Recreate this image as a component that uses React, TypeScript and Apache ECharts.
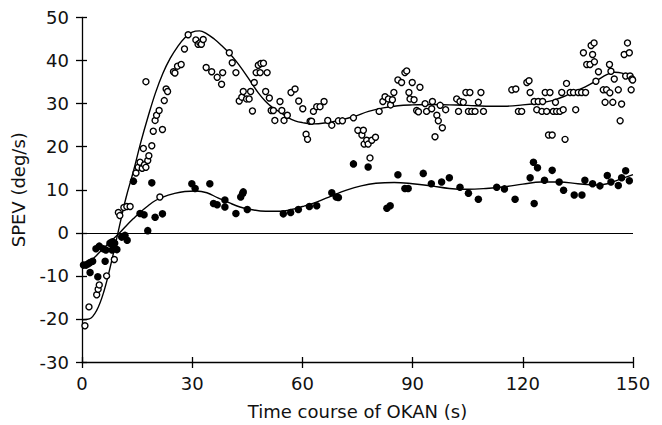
import React, { useEffect, useRef } from "react";
import * as echarts from "echarts";

const xTicks = [0, 30, 60, 90, 120, 150];
const yTicks = [-30, -20, -10, 0, 10, 20, 30, 40, 50];

const openPoints: [number, number][] = [
  [0.8, -21.6], [1.9, -17.2], [4.0, -14.4], [4.4, -13.1], [4.7, -12.1], [6.7, -10.0], [8.8, -6.2],
  [9.9, 4.7], [10.3, 4.0], [11.4, 5.9], [12.2, 6.1], [13.1, 6.1], [14.7, 13.9], [15.3, 15.2],
  [15.8, 16.4], [16.4, 15.0], [17.0, 15.8], [17.4, 15.2], [16.7, 19.6], [17.4, 35.1], [17.9, 16.8],
  [18.2, 17.9], [19.0, 20.2], [19.4, 23.6], [19.9, 26.1], [20.3, 27.3], [21.0, 28.4], [21.2, 8.3],
  [21.9, 24.0], [22.4, 30.7], [22.9, 33.4], [23.3, 32.8], [24.9, 37.4], [25.3, 37.1], [26.0, 38.7],
  [27.0, 39.1], [27.9, 42.7], [28.9, 46.0], [31.0, 44.8], [31.6, 43.8], [32.1, 44.1], [32.5, 43.8],
  [33.0, 44.9], [33.8, 38.4], [35.3, 37.4], [36.8, 36.1], [38.0, 34.5], [38.3, 37.2], [40.1, 41.8],
  [40.9, 39.5], [41.9, 37.2], [42.8, 30.6], [43.5, 31.5], [43.9, 32.8], [44.8, 31.1], [45.5, 31.1],
  [45.9, 32.8], [46.4, 28.3], [46.9, 34.9], [47.4, 37.2], [48.0, 38.9], [48.5, 37.2], [48.7, 39.3],
  [49.4, 39.4], [50.4, 37.2], [50.0, 32.8], [51.0, 31.3], [51.5, 28.4], [52.1, 28.4], [52.5, 26.1],
  [53.9, 30.5], [54.4, 28.4], [55.0, 26.1], [55.9, 27.3], [56.9, 32.6], [58.0, 33.4], [59.0, 30.6],
  [60.1, 28.8], [61.0, 22.9], [61.4, 21.7], [62.1, 25.9], [62.5, 25.9], [63.0, 28.2], [63.9, 29.3],
  [64.8, 29.3], [65.9, 30.5], [66.9, 26.1], [68.0, 25.0], [69.8, 26.0], [70.9, 26.0], [73.9, 26.7],
  [75.1, 23.8], [76.2, 22.7], [76.6, 23.8], [76.8, 20.6], [77.5, 21.5], [77.9, 20.6], [78.9, 21.5],
  [79.9, 22.2], [78.4, 17.4], [80.9, 28.2], [81.9, 30.5], [82.5, 31.6], [83.4, 31.1], [84.0, 29.7],
  [84.5, 30.9], [84.9, 32.6], [86.0, 35.5], [87.0, 34.9], [87.9, 37.2], [88.4, 37.6], [89.0, 32.6],
  [89.9, 34.9], [92.0, 33.8], [89.3, 31.1], [90.4, 30.9], [91.1, 28.4], [91.6, 28.1], [93.4, 30.0],
  [93.8, 28.2], [95.4, 30.5], [95.2, 28.8], [96.6, 27.3], [97.0, 26.0], [98.1, 24.4], [96.1, 22.3],
  [97.5, 29.6], [99.0, 28.6], [102.0, 31.1], [102.9, 30.5], [103.8, 30.3], [102.5, 28.2], [104.5, 32.6],
  [105.6, 32.6], [105.2, 28.2], [106.1, 28.2], [107.0, 28.2], [107.9, 30.3], [108.6, 32.6], [109.3, 28.2],
  [117.0, 33.2], [118.1, 33.4], [118.8, 28.2], [119.7, 28.2], [121.1, 34.9], [121.7, 35.3], [122.0, 32.6],
  [123.1, 30.5], [124.2, 30.5], [125.4, 30.5], [123.8, 28.6], [125.2, 28.2], [126.5, 28.2], [126.1, 32.6],
  [127.4, 32.6], [127.0, 22.7], [128.0, 22.7], [128.3, 28.2], [129.2, 28.2], [130.1, 28.2], [131.0, 28.6],
  [128.9, 30.3], [130.6, 32.6], [131.5, 21.7], [131.9, 34.7], [132.9, 32.6], [133.8, 32.6], [135.1, 32.6],
  [136.0, 32.6], [137.1, 32.6], [134.4, 28.6], [136.5, 41.8], [137.4, 39.1], [138.3, 39.1], [138.6, 43.5],
  [139.4, 44.1], [139.0, 41.4], [139.5, 39.7], [140.6, 37.4], [139.9, 35.2], [141.9, 33.2], [142.8, 33.2],
  [143.7, 32.5], [142.4, 30.3], [144.5, 30.3], [143.6, 39.1], [144.0, 37.5], [144.9, 35.7], [146.0, 33.2],
  [146.9, 29.9], [146.5, 26.0], [147.6, 41.4], [148.5, 44.1], [149.0, 41.8], [148.0, 36.4], [149.2, 36.4],
  [149.7, 35.7], [149.9, 35.5], [149.5, 33.2],
];

const filledPoints: [number, number][] = [
  [0.4, -7.5], [1.1, -7.5], [1.7, -7.2], [2.2, -6.9], [2.9, -6.6], [2.2, -9.2], [3.8, -3.7], [4.7, -3.1],
  [5.8, -3.7], [6.5, -4.0], [4.3, -10.2], [6.3, -6.6], [7.6, -2.4], [8.3, -2.1], [8.9, -2.4], [8.7, -3.6],
  [8.2, -4.0], [9.5, -3.9], [10.8, -1.0], [11.7, -0.6], [12.3, -1.7], [14.0, 12.0], [15.8, 4.5], [16.9, 4.2],
  [17.9, 0.5], [19.0, 11.6], [19.9, 3.6], [21.9, 4.4], [29.9, 11.4], [30.8, 10.3], [34.8, 11.4], [35.8, 6.8],
  [36.8, 6.5], [38.9, 7.6], [38.9, 6.0], [41.9, 4.5], [43.2, 8.3], [43.7, 9.1], [43.9, 9.5], [45.0, 5.4],
  [54.8, 4.4], [56.8, 4.7], [58.9, 5.4], [61.9, 6.1], [63.9, 6.3], [68.0, 9.3], [69.2, 8.3], [69.8, 8.2],
  [73.9, 16.0], [77.9, 15.3], [83.0, 5.7], [83.9, 6.3], [86.0, 13.5], [87.9, 10.3], [88.8, 10.3],
  [92.9, 13.8], [95.1, 11.4], [97.9, 11.8], [100.0, 12.8], [102.9, 10.6], [105.2, 9.2], [107.9, 7.8],
  [112.9, 10.6], [115.0, 10.2], [117.9, 7.8], [122.0, 12.8], [122.9, 16.4], [124.0, 15.1], [123.1, 6.8],
  [125.9, 12.2], [128.0, 14.5], [129.9, 11.8], [131.1, 9.9], [134.0, 8.8], [136.1, 8.8], [136.9, 12.2],
  [139.0, 11.4], [141.0, 10.9], [143.0, 13.3], [144.0, 11.8], [146.0, 11.0], [146.9, 12.8], [148.0, 14.4],
  [149.0, 12.1],
];

const openFitX = [0, 2, 4, 6, 8, 10, 12, 14, 16, 18, 20, 22, 24, 26, 28, 30, 32, 34, 36, 38, 40, 42, 44, 46, 48, 50, 52, 54, 56, 58, 60, 63, 66, 70, 74, 78, 82, 86, 90, 95, 100, 105, 110, 115, 120, 125, 128, 131, 134, 137, 140, 143, 145, 147, 149, 150];
const openFitY = [-20.2, -20.0, -18.0, -13.5, -6.8, 0.8, 8.2, 14.3, 21.0, 27.0, 32.5, 37.0, 40.5, 43.2, 45.3, 46.6, 46.9, 46.2, 45.0, 43.5, 41.8, 39.8, 37.5, 35.0, 32.5, 30.5, 29.0, 28.0, 26.8, 26.0, 25.6, 25.3, 25.5, 26.1, 27.0, 28.2, 29.0, 29.5, 29.7, 29.8, 29.7, 29.6, 29.4, 29.4, 29.7, 30.2, 30.7, 31.6, 32.8, 33.9, 35.3, 36.8, 37.3, 37.1, 36.3, 35.7];

const filledFitX = [0, 2, 4, 6, 8, 10, 12, 14, 16, 18, 20, 22, 25, 28, 31, 34, 37, 40, 43, 46, 50, 54, 57, 60, 64, 68, 72, 76, 80, 85, 90, 95, 100, 105, 110, 115, 120, 125, 130, 135, 140, 143, 146, 150];
const filledFitY = [-8.0, -6.8, -5.2, -3.5, -1.8, -0.2, 1.6, 3.3, 4.9, 6.3, 7.5, 8.3, 9.1, 9.6, 9.7, 9.3, 8.1, 7.0, 6.0, 5.4, 5.0, 5.0, 5.4, 6.1, 7.2, 8.6, 9.9, 10.9, 11.5, 11.7, 11.4, 10.9, 10.3, 10.1, 10.3, 10.7, 11.3, 11.8, 11.8, 11.4, 11.1, 11.4, 12.3, 13.5];

const FONT = "'DejaVu Sans', sans-serif";
const INK = "#000";
const TEXT = "#111";

export default function App() {
  const ref = useRef<HTMLDivElement>(null);
  useEffect(() => {
    if (!ref.current) return;
    const chart = echarts.init(ref.current, undefined, { renderer: "svg" });
    const baseX = {
      type: "value" as const,
      min: xTicks[0],
      max: xTicks[xTicks.length - 1],
      interval: 30,
      splitLine: { show: false },
    };
    const baseY = {
      type: "value" as const,
      min: yTicks[0],
      max: yTicks[yTicks.length - 1],
      interval: 10,
      splitLine: { show: false },
    };
    const labelStyle = { fontFamily: FONT, fontSize: 18, color: TEXT };
    chart.setOption({
      animation: false,
      backgroundColor: "#fff",
      grid: { left: 82, right: 29, top: 17.5, bottom: 58.3, containLabel: false },
      xAxis: [
        {
          ...baseX,
          position: "bottom",
          name: "Time course of OKAN (s)",
          nameLocation: "middle",
          nameGap: 40,
          nameTextStyle: { ...labelStyle },
          axisLine: { show: true, onZero: false, lineStyle: { color: INK, width: 1.3 } },
          axisTick: { show: true, inside: false, length: 6, lineStyle: { color: INK, width: 1.3 } },
          axisLabel: { ...labelStyle, margin: 12 },
        },
        {
          ...baseX,
          position: "bottom",
          axisLine: { show: false, onZero: false },
          axisTick: { show: true, inside: true, length: 5, lineStyle: { color: INK, width: 1.3 } },
          axisLabel: { show: false },
        },
      ],
      yAxis: [
        {
          ...baseY,
          position: "left",
          name: "SPEV (deg/s)",
          nameLocation: "middle",
          nameGap: 55,
          nameRotate: 90,
          nameTextStyle: { ...labelStyle },
          axisLine: { show: true, onZero: false, lineStyle: { color: INK, width: 1.3 } },
          axisTick: { show: true, inside: false, length: 6, lineStyle: { color: INK, width: 1.3 } },
          axisLabel: { ...labelStyle, margin: 13 },
        },
        {
          ...baseY,
          position: "left",
          axisLine: { show: false, onZero: false },
          axisTick: { show: true, inside: true, length: 5, lineStyle: { color: INK, width: 1.3 } },
          axisLabel: { show: false },
        },
      ],
      series: [
        {
          type: "line",
          data: openFitX.map((x, i) => [x, openFitY[i]]),
          smooth: 0.4,
          showSymbol: false,
          lineStyle: { color: INK, width: 1.4 },
          z: 3,
          markLine: {
            silent: true,
            symbol: "none",
            label: { show: false },
            lineStyle: { color: INK, width: 1.2, type: "solid" },
            data: [{ yAxis: 0 }],
          },
        },
        {
          type: "line",
          data: filledFitX.map((x, i) => [x, filledFitY[i]]),
          smooth: 0.4,
          showSymbol: false,
          lineStyle: { color: INK, width: 1.4 },
          z: 3,
        },
        {
          type: "scatter",
          data: openPoints,
          symbol: "circle",
          symbolSize: 6,
          itemStyle: { color: "#fff", borderColor: INK, borderWidth: 1.4, opacity: 1 },
          z: 4,
        },
        {
          type: "scatter",
          data: filledPoints,
          symbol: "circle",
          symbolSize: 7.5,
          itemStyle: { color: INK, opacity: 1 },
          z: 5,
        },
      ],
    });
    return () => chart.dispose();
  }, []);
  return <div ref={ref} style={{ width: 662, height: 425, position: "absolute", left: 0, top: 0 }} />;
}
